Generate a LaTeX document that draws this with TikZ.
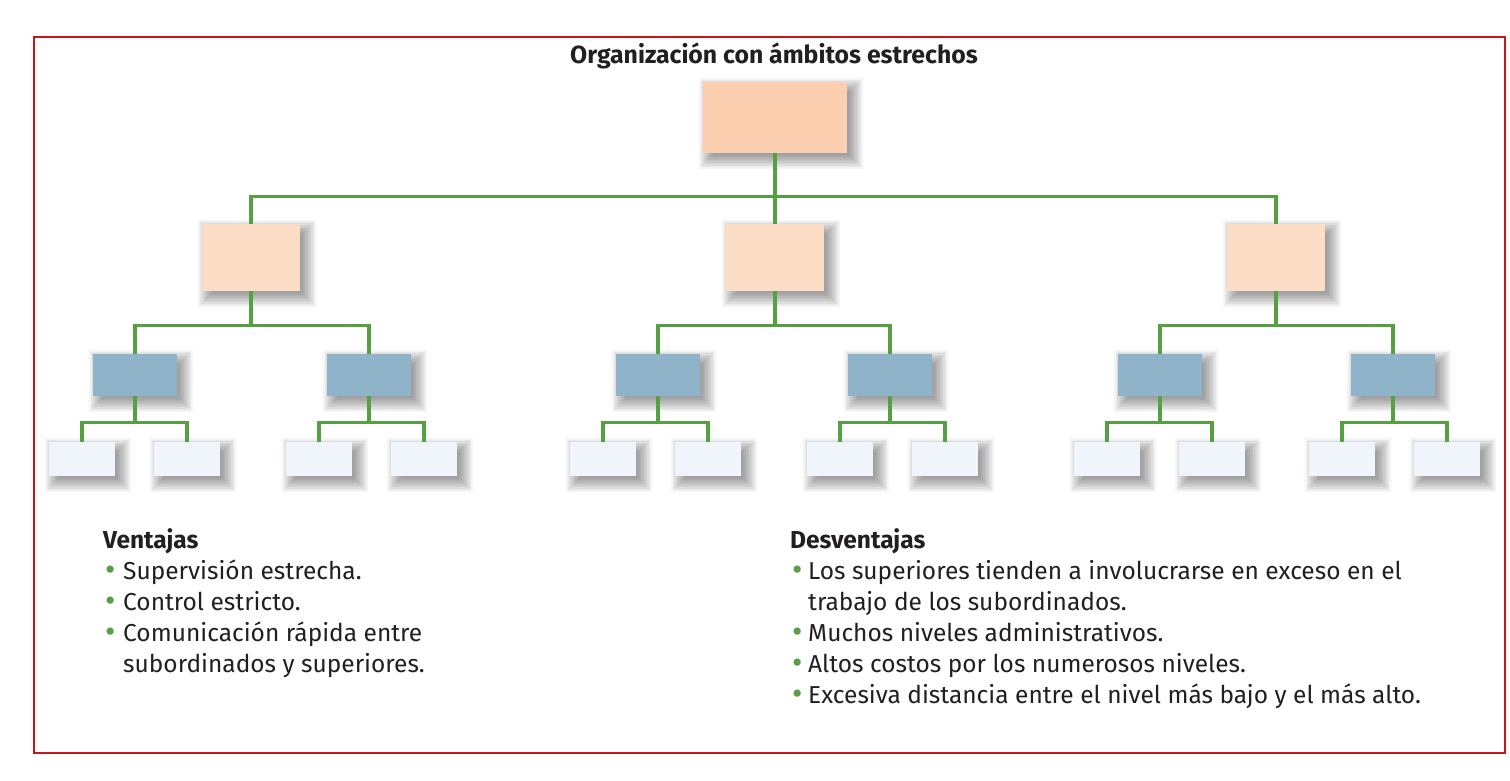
\documentclass[tikz,border=0pt]{standalone}
\usepackage{fontspec}
\setmainfont{Fira Sans}
\usetikzlibrary{backgrounds}
\definecolor{frameRed}{HTML}{C8161D}
\definecolor{topFill}{HTML}{FBCFAF}
\definecolor{midFill}{HTML}{FCDEC6}
\definecolor{blueFill}{HTML}{8FB4C9}
\definecolor{lightFill}{HTML}{F0F4FB}
\definecolor{linkGreen}{HTML}{55A043}
\definecolor{bgreen}{HTML}{5A9E48}
\definecolor{textDark}{HTML}{231F20}
\newcommand{\bul}{\textcolor{bgreen}{\raisebox{-0.08em}{\scalebox{1.3}{\textbullet}}}}
\begin{document}
\begin{tikzpicture}[x=1pt,y=-1pt,
  orgbox/.style={rectangle, inner sep=0pt, draw=none},
  boxtop/.style={orgbox, fill=topFill, minimum width=144pt, minimum height=71pt},
  boxtwo/.style={orgbox, fill=midFill, minimum width=98pt, minimum height=67pt},
  boxthree/.style={orgbox, fill=blueFill, minimum width=84pt, minimum height=42pt},
  boxfour/.style={orgbox, fill=lightFill, minimum width=66pt, minimum height=34pt},
  shadowlayer/.style={fill=black, opacity=0.045},
  link/.style={draw=linkGreen, line width=3.2pt},
  frame/.style={draw=frameRed, line width=2pt},
  titletext/.style={font=\fontsize{24.8}{28}\selectfont\bfseries, text=textDark, inner sep=0pt},
  listtext/.style={font=\fontsize{24.5}{31}\selectfont, text=textDark, inner sep=0pt, align=left}
]
\useasboundingbox (0,0) rectangle (1510,780);

\node[titletext, anchor=base] (title) at (774,63) {Organización con ámbitos estrechos};

% level 1
\node[boxtop] (top) at (775,117.5) {};
% level 2
\node[boxtwo] (b1) at (251,257.5) {};
\node[boxtwo] (b2) at (775,257.5) {};
\node[boxtwo] (b3) at (1276,257.5) {};
% level 3
\foreach \i/\x in {1/135,2/369,3/658,4/890,5/1160,6/1393}
  \node[boxthree] (c\i) at (\x,375) {};
% level 4
\foreach \i/\x in {1/82,2/187,3/319,4/424,5/603,6/708,7/840,8/945,9/1107,10/1212,11/1342,12/1447}
  \node[boxfour] (d\i) at (\x,459) {};

% background and soft shadows
\begin{pgfonlayer}{background}
\fill[white] (0,0) rectangle (1510,780);
\foreach \n in {top,b1,b2,b3,c1,c2,c3,c4,c5,c6,d1,d2,d3,d4,d5,d6,d7,d8,d9,d10,d11,d12}{
  \foreach \rr in {0,1.5,...,13.5}{
    \fill[shadowlayer] ([shift={(10-\rr,10-\rr)}]\n.north west) rectangle ([shift={(2+\rr,2+\rr)}]\n.south east);
  }
}
\end{pgfonlayer}

\draw[frame] (34,37) rectangle (1505,753);

% links
\draw[link] (top.south) -- ++(0,43) coordinate (j0);
\draw[link] (j0) -| (b1.north);
\draw[link] (j0) -| (b3.north);
\draw[link] (j0) -- (b2.north);
\foreach \p/\a/\b in {1/1/2,2/3/4,3/5/6}{
  \draw[link] (b\p.south) -- ++(0,34) coordinate (j\p);
  \draw[link] (j\p) -| (c\a.north);
  \draw[link] (j\p) -| (c\b.north);
}
\foreach \p/\a/\b in {1/1/2,2/3/4,3/5/6,4/7/8,5/9/10,6/11/12}{
  \draw[link] (c\p.south) -- ++(0,26) coordinate (k\p);
  \draw[link] (k\p) -| (d\a.north);
  \draw[link] (k\p) -| (d\b.north);
}

% text blocks
\node[listtext, anchor=base west] (ventajas) at (103,548) {%
\begin{tabular}[t]{@{}p{20pt}@{}l@{}}
\multicolumn{2}{@{}l@{}}{\bfseries Ventajas}\\
\hspace*{2pt}\bul & Supervisión estrecha.\\
\hspace*{2pt}\bul & Control estricto.\\
\hspace*{2pt}\bul & Comunicación rápida entre\\
 & subordinados y superiores.
\end{tabular}};

\node[listtext, anchor=base west] (desventajas) at (790,548) {%
\begin{tabular}[t]{@{}p{18pt}@{}l@{}}
\multicolumn{2}{@{}l@{}}{\bfseries Desventajas}\\
\hspace*{2pt}\bul & Los superiores tienden a involucrarse en exceso en el\\
 & trabajo de los subordinados.\\
\hspace*{2pt}\bul & Muchos niveles administrativos.\\
\hspace*{2pt}\bul & Altos costos por los numerosos niveles.\\
\hspace*{2pt}\bul & Excesiva distancia entre el nivel más bajo y el más alto.
\end{tabular}};
\end{tikzpicture}
\end{document}
